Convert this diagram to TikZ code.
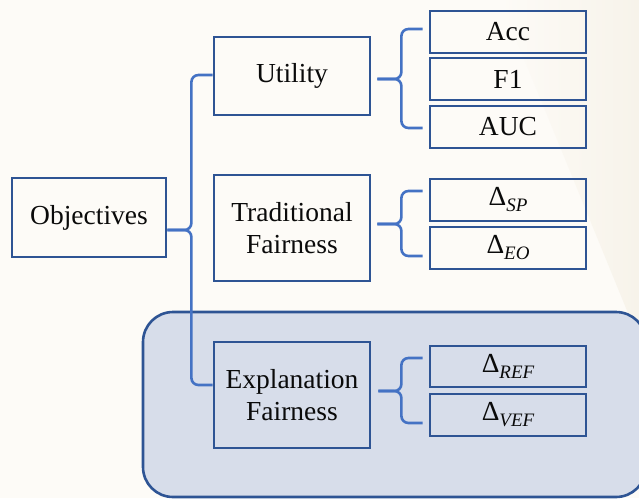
\documentclass[tikz,border=0pt]{standalone}
\usepackage{fontspec}
\setmainfont{Liberation Serif}
\newfontfamily\labelfont{Liberation Serif}
\usetikzlibrary{calc}
\definecolor{paper}{HTML}{FDFBF7}
\definecolor{paperdk}{HTML}{F7F3EA}
\definecolor{boxline}{HTML}{2E5494}
\definecolor{link}{HTML}{4472C4}
\definecolor{panelfill}{HTML}{D7DDEA}
\definecolor{ink}{HTML}{0A0A0A}
% a delta with an italic subscript, set in the label font
\newcommand{\dmetric}[1]{Δ\raisebox{-6pt}{\fontsize{19}{19}\selectfont\itshape #1}}
\begin{document}
\begin{tikzpicture}[x=1pt,y=-1pt,
  box/.style={draw=boxline, line width=2.8pt, inner sep=0pt, minimum width=156pt,
              text=ink, align=center, font=\labelfont\fontsize{27.5}{32}\selectfont},
  leaf/.style={box, minimum height=42pt},
  wire/.style={draw=link, line width=2.6pt, rounded corners=7pt},
  panel/.style={draw=boxline, line width=2.6pt, fill=panelfill, rounded corners=30pt}]

% page background with a faint warm sheen on the right
\fill[paper] (0,0) rectangle (639,498);
\shade[left color=paper, right color=paperdk] (500,0) -- (639,0) -- (639,340) -- cycle;
\useasboundingbox (0,0) rectangle (639,498);

% highlighted panel behind the explanation-fairness branch
\draw[panel] (143,312) rectangle (646,497);

% category boxes
\node[box, minimum width=154pt, minimum height=79pt] (obj) at (89,217.5) {Objectives};
\node[box, minimum height=78pt]  (util) at (292,76)  {Utility};
\node[box, minimum height=106pt] (trad) at (292,228) {Traditional\\Fairness};
\node[box, minimum height=106pt] (expl) at (292,395) {Explanation\\Fairness};

% metric boxes
\node[leaf] (acc) at (508,32)    {Acc};
\node[leaf] (f1)  at (508,79)    {F1};
\node[leaf] (auc) at (508,127)   {AUC};
\node[leaf] (sp)  at (508,200)   {\dmetric{SP}};
\node[leaf] (eo)  at (508,248)   {\dmetric{EO}};
\node[leaf, minimum height=41pt] (ref) at (508,366.5) {\dmetric{REF}};
\node[leaf] (vef) at (508,415)   {\dmetric{VEF}};

% brace from Objectives
\coordinate (oTip) at ($(obj.east)+(0,12.5)$);
\coordinate (oSp)  at ($(oTip)+(24,0)$);
\draw[wire] ($(util.west)+(0,-1)$) -| (oSp) -- (oTip);
\draw[wire] ($(expl.west)+(0,-10)$) -| (oSp) -- (oTip);

% brace from Utility
\coordinate (uTip) at ($(util.east)+(6,3)$);
\coordinate (uSp)  at ($(uTip)+(24,0)$);
\draw[wire] ($(acc.west)+(-6,-3)$) -| (uSp) -- (uTip);
\draw[wire] ($(auc.west)+(-6,1)$) -| (uSp) -- (uTip);

% brace from Traditional Fairness
\coordinate (tTip) at ($(trad.east)+(6,-4)$);
\coordinate (tSp)  at ($(tTip)+(24,0)$);
\draw[wire] ($(sp.west)+(-6,-9)$) -| (tSp) -- (tTip);
\draw[wire] ($(eo.west)+(-6,8)$) -| (tSp) -- (tTip);

% brace from Explanation Fairness
\coordinate (eTip) at ($(expl.east)+(7,-4)$);
\coordinate (eSp)  at ($(eTip)+(23,0)$);
\draw[wire] ($(ref.west)+(-6,-8.5)$) -| (eSp) -- (eTip);
\draw[wire] ($(vef.west)+(-6,8)$) -| (eSp) -- (eTip);
\end{tikzpicture}
\end{document}
